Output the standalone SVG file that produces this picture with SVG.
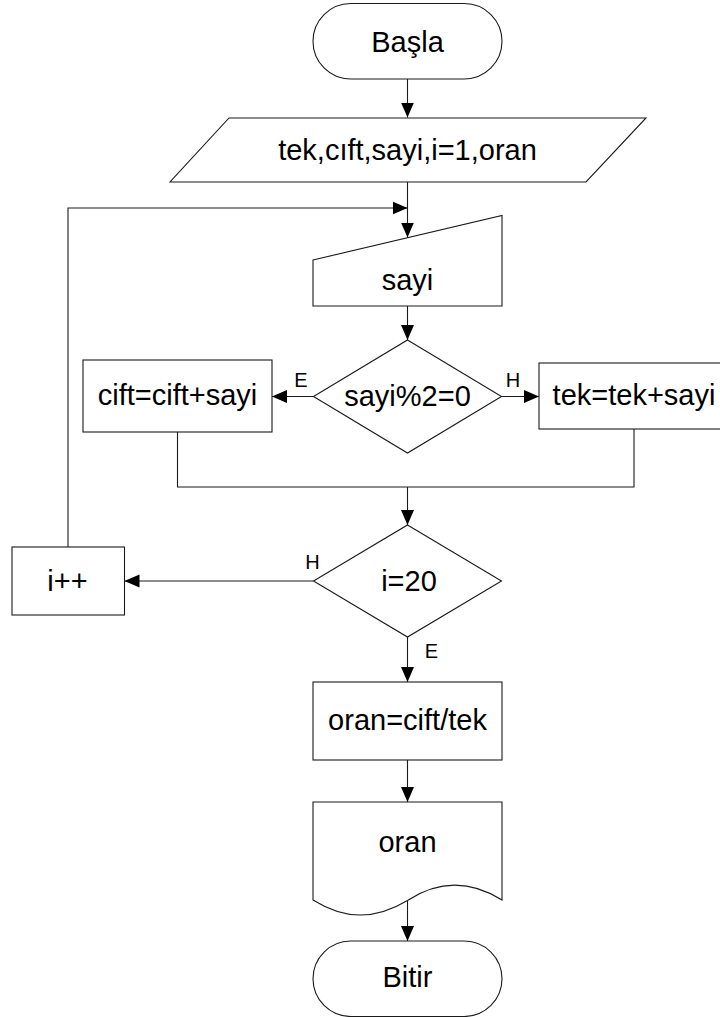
<svg xmlns="http://www.w3.org/2000/svg" width="720" height="1017" viewBox="0 0 720 1017">
<style>
.s{fill:#fff;stroke:#1a1a1a;stroke-width:1.1}
.c{fill:none;stroke:#1a1a1a;stroke-width:1.1}
.t{font-family:"Liberation Sans",Arial,sans-serif;font-size:29px;fill:#000;text-anchor:middle}
.l{font-family:"Liberation Sans",Arial,sans-serif;font-size:20px;fill:#000;text-anchor:middle}
</style>
<defs>
<marker id="a" markerUnits="userSpaceOnUse" markerWidth="15" markerHeight="15" refX="15" refY="7.5" orient="auto">
<path d="M0,1 L15,7.5 L0,14 z" fill="#000"/>
</marker>
</defs>
<rect width="720" height="1017" fill="#fff"/>
<g id="connectors">
<line class="c" x1="407.5" y1="79" x2="407.5" y2="117.5" marker-end="url(#a)"/>
<line class="c" x1="407.5" y1="182" x2="407.5" y2="237.5" marker-end="url(#a)"/>
<polyline class="c" points="68,547 68,208 407.5,208" marker-end="url(#a)"/>
<line class="c" x1="407.5" y1="306" x2="407.5" y2="340" marker-end="url(#a)"/>
<line class="c" x1="313.5" y1="396.5" x2="272" y2="396.5" marker-end="url(#a)"/>
<line class="c" x1="501.5" y1="396.5" x2="539" y2="396.5" marker-end="url(#a)"/>
<polyline class="c" points="177.5,432 177.5,487 634,487 634,429"/>
<line class="c" x1="407.5" y1="487" x2="407.5" y2="525" marker-end="url(#a)"/>
<line class="c" x1="313.5" y1="581" x2="124.5" y2="581" marker-end="url(#a)"/>
<line class="c" x1="407.5" y1="637" x2="407.5" y2="682" marker-end="url(#a)"/>
<line class="c" x1="407.5" y1="760" x2="407.5" y2="802" marker-end="url(#a)"/>
<line class="c" x1="407.5" y1="901" x2="407.5" y2="941" marker-end="url(#a)"/>
<text class="l" x="301" y="387">E</text>
<text class="l" x="513" y="387">H</text>
<text class="l" x="312.5" y="569">H</text>
<text class="l" x="431.5" y="658">E</text>
</g>
<g id="basla">
<rect class="s" x="313" y="3.5" width="189" height="75.5" rx="37.75"/>
<text class="t" x="407.5" y="52">Başla</text>
</g>
<g id="input">
<polygon class="s" points="229,118 646,118 586,182 170,182"/>
<text class="t" x="407.5" y="160">tek,cıft,sayi,i=1,oran</text>
</g>
<g id="sayi-input">
<polygon class="s" points="313,260 502,215.5 502,306 313,306"/>
<text class="t" x="407.5" y="290">sayi</text>
</g>
<g id="cond1">
<polygon class="s" points="407.5,340 501.5,396.5 407.5,453 313.5,396.5"/>
<text class="t" x="407.5" y="406">sayi%2=0</text>
</g>
<g id="cift">
<rect class="s" x="83" y="360" width="189" height="72"/>
<text class="t" x="177.5" y="405">cift=cift+sayi</text>
</g>
<g id="tek">
<rect class="s" x="539" y="363" width="190" height="66"/>
<text class="t" x="634" y="405">tek=tek+sayi</text>
</g>
<g id="cond2">
<polygon class="s" points="407.5,525 501.5,581 407.5,637 313.5,581"/>
<text class="t" x="409" y="591">i=20</text>
</g>
<g id="inc">
<rect class="s" x="12" y="547" width="112.5" height="68"/>
<text class="t" x="67.5" y="591">i++</text>
</g>
<g id="oran-calc">
<rect class="s" x="313" y="682" width="189" height="78"/>
<text class="t" x="407.5" y="730">oran=cift/tek</text>
</g>
<g id="output">
<path class="s" d="M313,802 H502 V900 C470,880 439,880 407.5,900.5 C375,920 345,920 313,900 Z"/>
<text class="t" x="407.5" y="852">oran</text>
</g>
<g id="bitir">
<rect class="s" x="313" y="941" width="189" height="75.5" rx="37.75"/>
<text class="t" x="407.5" y="987">Bitir</text>
</g>
</svg>
